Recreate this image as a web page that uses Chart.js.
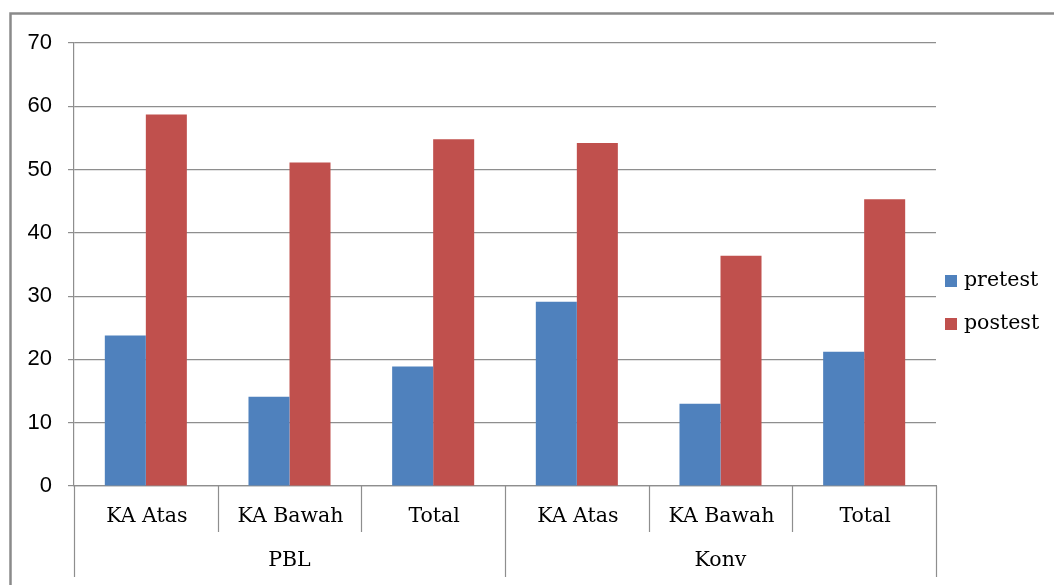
<!DOCTYPE html>
<html>
<head>
<meta charset="utf-8">
<script src="https://cdn.jsdelivr.net/npm/chart.js@4.4.1/dist/chart.umd.min.js"></script>
<style>
  html, body { margin: 0; padding: 0; background: #ffffff; }
  #wrap { width: 1054px; height: 585px; }
</style>
</head>
<body>
<div id="wrap"><canvas id="c" width="1054" height="585"></canvas></div>
<script>
const categories = ['KA Atas', 'KA Bawah', 'Total', 'KA Atas', 'KA Bawah', 'Total'];
const groups = ['PBL', 'Konv'];
const groupSize = 3;
const seriesNames = ['pretest', 'postest'];
const pretest = [23.8, 14.1, 18.9, 29.1, 13.0, 21.2];
const postest = [58.7, 51.1, 54.8, 54.2, 36.4, 45.3];
const yTicks = [0, 10, 20, 30, 40, 50, 60, 70];

const colors = ['#4F81BD', '#C0504D'];
const gridColor = '#8e8e8e';
const serifFont = '20.5px "DejaVu Serif"';

const decor = {
  id: 'decor',
  beforeDraw(chart) {
    const ctx = chart.ctx;
    ctx.save();
    ctx.fillStyle = '#ffffff';
    ctx.fillRect(0, 0, chart.width, chart.height);
    ctx.strokeStyle = '#8a8a8a';
    ctx.lineWidth = 2.5;
    ctx.strokeRect(10.5, 13.5, 1200, 800);
    ctx.restore();
  },
  afterDraw(chart) {
    const ctx = chart.ctx;
    const x = chart.scales.x;
    const area = chart.chartArea;
    const n = categories.length;
    const step = (x.getPixelForValue(1) - x.getPixelForValue(0));
    ctx.save();
    ctx.strokeStyle = gridColor;
    ctx.lineWidth = 1.2;
    for (let i = 0; i <= n; i++) {
      const px = Math.round(x.getPixelForValue(i) - step / 2) + 0.5;
      const isGroup = (i % groupSize === 0);
      ctx.beginPath();
      ctx.moveTo(px, area.bottom);
      ctx.lineTo(px, isGroup ? 577 : 532);
      ctx.stroke();
    }
    ctx.fillStyle = '#000000';
    ctx.font = serifFont;
    ctx.textAlign = 'center';
    ctx.textBaseline = 'middle';
    categories.forEach((c, i) => {
      ctx.fillText(c, x.getPixelForValue(i) + 1, 517);
    });
    groups.forEach((g, gi) => {
      const a = x.getPixelForValue(gi * groupSize);
      const b = x.getPixelForValue(gi * groupSize + groupSize - 1);
      ctx.fillText(g, (a + b) / 2, 561);
    });
    // legend
    ctx.textAlign = 'left';
    const ly = [281, 324];
    seriesNames.forEach((s, i) => {
      ctx.fillStyle = colors[i];
      ctx.fillRect(945, ly[i] - 6, 12, 12);
      ctx.fillStyle = '#000000';
      ctx.fillText(s, 964, ly[i]);
    });
    ctx.restore();
  }
};

new Chart(document.getElementById('c'), {
  type: 'bar',
  data: {
    labels: categories,
    datasets: [
      { label: seriesNames[0], data: pretest, backgroundColor: colors[0], borderWidth: 0,
        categoryPercentage: 0.571, barPercentage: 1.0 },
      { label: seriesNames[1], data: postest, backgroundColor: colors[1], borderWidth: 0,
        categoryPercentage: 0.571, barPercentage: 1.0 }
    ]
  },
  options: {
    responsive: false,
    devicePixelRatio: 1,
    animation: false,
    layout: { padding: { left: 0, top: 43, right: 118, bottom: 0 } },
    plugins: {
      legend: { display: false },
      tooltip: { enabled: false },
      title: { display: false }
    },
    scales: {
      x: {
        type: 'category',
        offset: true,
        grid: { display: false },
        border: { display: true, color: gridColor, width: 1.2 },
        ticks: { display: false },
        afterFit(s) { s.height = 99; }
      },
      y: {
        min: 0,
        max: 70,
        afterBuildTicks(s) { s.ticks = yTicks.map(v => ({ value: v })); },
        grid: { color: gridColor, lineWidth: 1.2, tickLength: 6, drawTicks: true, tickColor: gridColor },
        border: { display: true, color: gridColor, width: 1.2 },
        ticks: {
          padding: 16,
          color: '#000000',
          font: { family: '"Liberation Sans"', size: 22 }
        },
        afterFit(s) { s.width = 74; }
      }
    }
  },
  plugins: [decor]
});
</script>
</body>
</html>
